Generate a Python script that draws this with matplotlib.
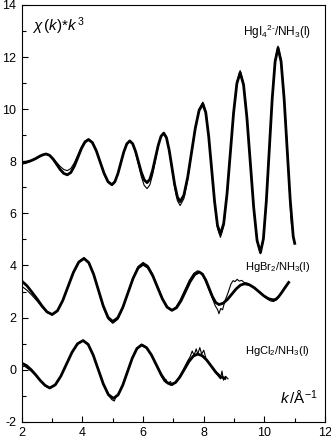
import matplotlib
matplotlib.use("Agg")
import matplotlib.pyplot as plt
from matplotlib.ticker import MultipleLocator

plt.rcParams['font.family'] = ['Liberation Sans', 'DejaVu Sans']
plt.rcParams['mathtext.fontset'] = 'custom'
plt.rcParams['mathtext.rm'] = 'Liberation Sans'
plt.rcParams['mathtext.it'] = 'Liberation Sans:italic'
plt.rcParams['axes.unicode_minus'] = False

k_hgi_fit = [2.0, 2.15, 2.3, 2.45, 2.6, 2.7, 2.8,
             2.917, 3.033, 3.15, 3.267, 3.383, 3.5,
             3.617, 3.733, 3.85, 3.967, 4.083, 4.2,
             4.328, 4.457, 4.585, 4.713, 4.842, 4.97,
             5.068, 5.167, 5.265, 5.363, 5.462, 5.56,
             5.655, 5.75, 5.845, 5.94, 6.035, 6.13,
             6.222, 6.313, 6.405, 6.497, 6.588, 6.68,
             6.77, 6.86, 6.95, 7.04, 7.13, 7.22,
             7.345, 7.47, 7.595, 7.72, 7.845, 7.97,
             8.067, 8.163, 8.26, 8.357, 8.453, 8.55,
             8.658, 8.767, 8.875, 8.983, 9.092, 9.2,
             9.312, 9.423, 9.535, 9.647, 9.758, 9.87,
             9.967, 10.063, 10.16, 10.257, 10.353, 10.45,
             10.55, 10.65, 10.75, 10.85, 10.95, 11.0]
y_hgi_fit = [7.95, 7.97, 8.02, 8.1, 8.2, 8.25, 8.28,
             8.226, 8.08, 7.88, 7.68, 7.534, 7.48,
             7.57, 7.817, 8.155, 8.493, 8.74, 8.83,
             8.714, 8.398, 7.965, 7.533, 7.216, 7.1,
             7.213, 7.52, 7.94, 8.36, 8.667, 8.78,
             8.673, 8.38, 7.98, 7.58, 7.287, 7.18,
             7.307, 7.655, 8.13, 8.605, 8.953, 9.08,
             8.904, 8.423, 7.765, 7.108, 6.626, 6.45,
             6.701, 7.388, 8.325, 9.263, 9.949, 10.2,
             9.865, 8.95, 7.7, 6.45, 5.535, 5.2,
             5.615, 6.75, 8.3, 9.85, 10.985, 11.4,
             10.938, 9.675, 7.95, 6.225, 4.962, 4.5,
             5.026, 6.463, 8.425, 10.388, 11.824, 12.35,
             11.83, 10.41, 8.475, 6.54, 5.12, 4.85]
k_hgi_exp = [2.0, 2.15, 2.3, 2.45, 2.6, 2.7, 2.8,
             2.917, 3.033, 3.15, 3.267, 3.383, 3.5,
             3.617, 3.733, 3.85, 3.967, 4.083, 4.2,
             4.328, 4.457, 4.585, 4.713, 4.842, 4.97,
             5.068, 5.167, 5.265, 5.363, 5.462, 5.56,
             5.655, 5.75, 5.845, 5.94, 6.035, 6.13,
             6.222, 6.313, 6.405, 6.497, 6.588, 6.68,
             6.77, 6.86, 6.95, 7.04, 7.13, 7.22,
             7.345, 7.47, 7.595, 7.72, 7.845, 7.97,
             8.067, 8.163, 8.26, 8.357, 8.453, 8.55,
             8.658, 8.767, 8.875, 8.983, 9.092, 9.2,
             9.312, 9.423, 9.535, 9.647, 9.758, 9.87,
             9.967, 10.063, 10.16, 10.257, 10.353, 10.45,
             10.55, 10.65, 10.75, 10.82, 10.87, 10.9]
y_hgi_exp = [7.88, 7.93, 8.0, 8.08, 8.18, 8.24, 8.27,
             8.228, 8.113, 7.955, 7.798, 7.682, 7.64,
             7.722, 7.945, 8.25, 8.555, 8.778, 8.86,
             8.741, 8.415, 7.97, 7.525, 7.199, 7.08,
             7.195, 7.51, 7.94, 8.37, 8.685, 8.8,
             8.676, 8.338, 7.875, 7.413, 7.074, 6.95,
             7.094, 7.488, 8.025, 8.563, 8.956, 9.1,
             8.912, 8.4, 7.7, 7.0, 6.488, 6.3,
             6.566, 7.293, 8.285, 9.278, 10.004, 10.27,
             9.922, 8.973, 7.675, 6.378, 5.428, 5.08,
             5.509, 6.68, 8.28, 9.88, 11.051, 11.48,
             11.009, 9.723, 7.965, 6.208, 4.921, 4.45,
             4.984, 6.443, 8.435, 10.428, 11.886, 12.42,
             11.9, 10.5, 8.6, 7.0, 5.9, 5.5]

# HgBr2/NH3(l)
k_hgbr_fit = [2.0, 2.17, 2.33, 2.5, 2.67, 2.83, 3.0,
              3.175, 3.35, 3.525, 3.7, 3.875, 4.05,
              4.208, 4.367, 4.525, 4.683, 4.842, 5.0,
              5.167, 5.333, 5.5, 5.667, 5.833, 6.0,
              6.158, 6.317, 6.475, 6.633, 6.792, 6.95,
              7.1, 7.25, 7.4, 7.55, 7.7, 7.85,
              7.958, 8.067, 8.175, 8.283, 8.392, 8.5,
              8.642, 8.783, 8.925, 9.067, 9.208, 9.35,
              9.508, 9.667, 9.825, 9.983, 10.142, 10.3,
              10.383, 10.467, 10.55, 10.633, 10.717, 10.8]
y_hgbr_fit = [3.4, 3.22, 2.98, 2.72, 2.44, 2.22, 2.12,
              2.264, 2.658, 3.195, 3.733, 4.126, 4.27,
              4.108, 3.665, 3.06, 2.455, 2.012, 1.85,
              1.997, 2.4, 2.95, 3.5, 3.903, 4.05,
              3.931, 3.608, 3.165, 2.723, 2.399, 2.28,
              2.378, 2.648, 3.015, 3.383, 3.652, 3.75,
              3.666, 3.438, 3.125, 2.813, 2.584, 2.5,
              2.554, 2.7, 2.9, 3.1, 3.246, 3.3,
              3.258, 3.145, 2.99, 2.835, 2.722, 2.68,
              2.71, 2.8, 2.93, 3.07, 3.21, 3.35]
k_hgbr_exp = [2.0, 2.17, 2.33, 2.5, 2.67, 2.83, 3.0,
              3.175, 3.35, 3.525, 3.7, 3.875, 4.05,
              4.208, 4.367, 4.525, 4.683, 4.842, 5.0,
              5.167, 5.333, 5.5, 5.667, 5.833, 6.0,
              6.158, 6.317, 6.475, 6.633, 6.792, 6.95,
              7.08, 7.22, 7.37, 7.52, 7.67, 7.8,
              7.92, 8.04, 8.16, 8.28, 8.38, 8.46, 8.5, 8.56, 8.62, 8.7,
              8.8, 8.9, 8.97, 9.03, 9.1, 9.17, 9.25, 9.33, 9.45, 9.6,
              9.75, 9.9, 10.05, 10.2, 10.3, 10.4, 10.5, 10.6, 10.7, 10.8]
y_hgbr_exp = [3.2, 3.05, 2.86, 2.64, 2.4, 2.2, 2.1,
              2.247, 2.65, 3.2, 3.75, 4.153, 4.3,
              4.131, 3.67, 3.04, 2.41, 1.949, 1.78,
              1.937, 2.365, 2.95, 3.535, 3.963, 4.12,
              3.998, 3.665, 3.21, 2.755, 2.422, 2.3,
              2.4, 2.675, 3.05, 3.425, 3.7, 3.8,
              3.7, 3.45, 3.1, 2.75, 2.45, 2.3, 2.15, 2.35, 2.3, 2.65,
              2.95, 3.3, 3.42, 3.38, 3.47, 3.4, 3.43, 3.35, 3.32, 3.2,
              3.05, 2.9, 2.75, 2.64, 2.62, 2.68, 2.85, 3.05, 3.22, 3.35]

# HgCl2/NH3(l)
k_hgcl_fit = [2.0, 2.153, 2.307, 2.46, 2.613, 2.767, 2.92,
              3.103, 3.287, 3.47, 3.653, 3.837, 4.02,
              4.187, 4.353, 4.52, 4.687, 4.853, 5.02,
              5.175, 5.33, 5.485, 5.64, 5.795, 5.95,
              6.112, 6.273, 6.435, 6.597, 6.758, 6.92,
              7.067, 7.213, 7.36, 7.507, 7.653, 7.8,
              7.95, 8.1, 8.25, 8.4, 8.55, 8.7]
y_hgcl_fit = [0.25, 0.16, 0.0, -0.2, -0.42, -0.6, -0.7,
              -0.578, -0.245, 0.21, 0.665, 0.998, 1.12,
              0.971, 0.565, 0.01, -0.545, -0.951, -1.1,
              -0.963, -0.588, -0.075, 0.438, 0.813, 0.95,
              0.848, 0.57, 0.19, -0.19, -0.468, -0.57,
              -0.492, -0.278, 0.015, 0.308, 0.522, 0.6,
              0.538, 0.368, 0.135, -0.098, -0.268, -0.33]
k_hgcl_exp = [2.0, 2.08, 2.153, 2.307, 2.46, 2.613, 2.767, 2.92,
              3.103, 3.287, 3.47, 3.653, 3.837, 4.02,
              4.187, 4.353, 4.52, 4.687, 4.853, 4.97, 5.05, 5.1,
              5.175, 5.33, 5.485, 5.64, 5.795, 5.95,
              6.05, 6.15, 6.3, 6.45, 6.6, 6.7, 6.76, 6.82, 6.9, 6.97, 7.05, 7.14,
              7.3, 7.45, 7.55, 7.62, 7.68, 7.75, 7.8, 7.87, 7.93, 8.0, 8.08,
              8.2, 8.35, 8.45, 8.55, 8.6, 8.65, 8.72, 8.8]
y_hgcl_exp = [0.1, 0.14, 0.08, -0.05, -0.22, -0.43, -0.62, -0.72,
              -0.59, -0.25, 0.2, 0.66, 1.0, 1.13,
              0.98, 0.57, 0.0, -0.56, -0.98, -1.15, -1.2, -1.05,
              -0.98, -0.6, -0.08, 0.44, 0.83, 0.98,
              0.92, 0.8, 0.5, 0.15, -0.25, -0.45, -0.38, -0.55, -0.45, -0.6, -0.5, -0.38,
              -0.05, 0.3, 0.5, 0.72, 0.55, 0.8, 0.6, 0.85, 0.6, 0.75, 0.4,
              0.2, -0.05, -0.2, -0.35, -0.05, -0.4, -0.25, -0.35]

fig = plt.figure(figsize=(3.31, 4.45), dpi=100)
ax = fig.add_axes([0.066, 0.052, 0.916, 0.937])

for kf, yf, ke, ye in [(k_hgi_fit, y_hgi_fit, k_hgi_exp, y_hgi_exp),
                       (k_hgbr_fit, y_hgbr_fit, k_hgbr_exp, y_hgbr_exp),
                       (k_hgcl_fit, y_hgcl_fit, k_hgcl_exp, y_hgcl_exp)]:
    ax.plot(ke, ye, color='black', lw=0.8)
    ax.plot(kf, yf, color='black', lw=2.0)

ax.set_xlim(2, 12)
ax.set_ylim(-2, 14)
ax.xaxis.set_major_locator(MultipleLocator(2))
ax.xaxis.set_minor_locator(MultipleLocator(1))
ax.yaxis.set_major_locator(MultipleLocator(2))
ax.yaxis.set_minor_locator(MultipleLocator(1))
ax.tick_params(which='both', direction='in', top=False, right=False, labelsize=9)
ax.tick_params(which='major', length=4, width=0.8, pad=4)
ax.tick_params(which='minor', length=3, width=0.8)
for s in ax.spines.values():
    s.set_linewidth(0.8)

ax.text(2.35, 13.2, r'$\chi\,(k)$*$k^{\,3}$', fontsize=11, ha='left', va='center')
ax.text(11.55, 12.95, r'HgI$_4$$^{2\text{-}}$/NH$_3$(l)', fontsize=8.5, ha='right', va='center')
ax.text(11.5, 3.95, r'HgBr$_2$/NH$_3$(l)', fontsize=8, ha='right', va='center')
ax.text(11.5, 0.7, r'HgCl$_2$/NH$_3$(l)', fontsize=8, ha='right', va='center')
ax.text(11.75, -1.1, r'$k\,$/Å$^{-1}$', fontsize=11, ha='right', va='center')

fig.savefig('out.png', dpi=100)
